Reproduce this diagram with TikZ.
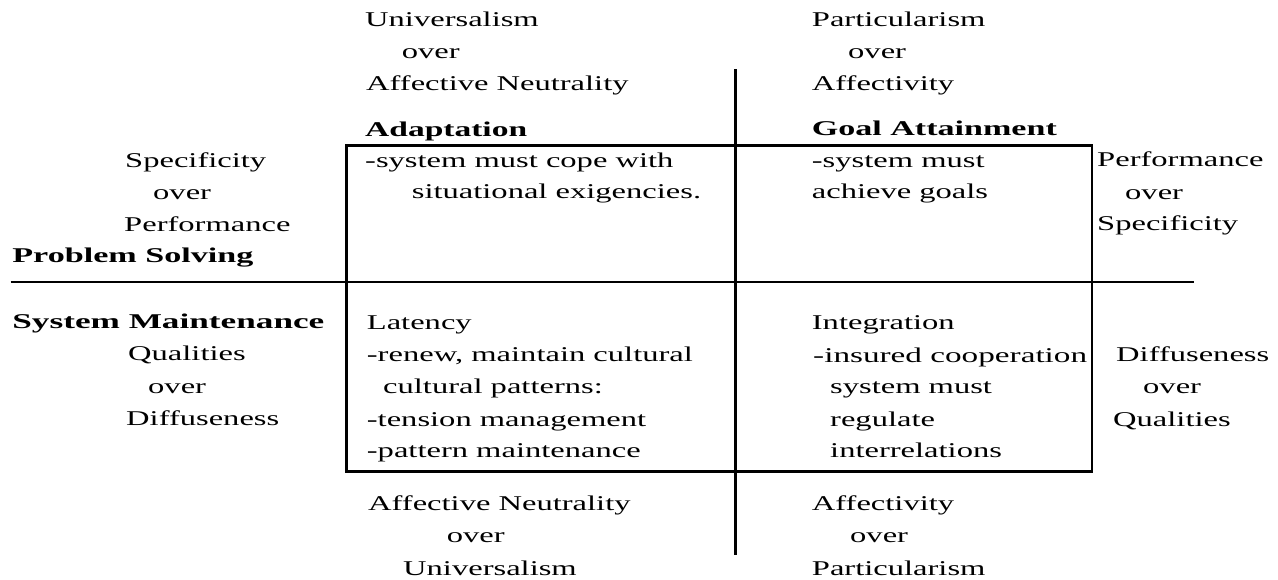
\documentclass[tikz,border=0pt]{standalone}
\usepackage{fontspec}
\setmainfont{Liberation Serif}[FakeStretch=1.55]
\newcommand{\boldfit}[2]{\resizebox{#1}{\height}{#2}}
\begin{document}
\begin{tikzpicture}[x=1pt,y=-1pt,
  txt/.style={anchor=base west,inner sep=0pt,font=\fontsize{21}{24}\selectfont},
  hd/.style={anchor=base west,inner sep=0pt,font=\fontsize{21}{24}\selectfont\bfseries},
  heavyline/.style={line width=2.8pt},
  lightline/.style={line width=1.6pt}]
\useasboundingbox (0,0) rectangle (1278,579);
\fill[white] (0,0) rectangle (1278,579);
% frame lines
\coordinate (boxNW) at (346.7,145.7);
\coordinate (boxSE) at (1092,471.7);
\coordinate (vTop) at (735.7,69);
\coordinate (vBot) at (735.7,555);
\coordinate (hL) at (10.7,281.7);
\coordinate (hR) at (1194,281.7);
\draw[lightline] (hL) -- (hR);
\draw[heavyline] (boxNW) rectangle (boxSE);
\draw[heavyline] (vTop) -- (vBot);
% top left
\node[txt] (uni1) at (365,26) {Universalism};
\node[txt] (over1) at (401.7,58) {over};
\node[txt] (an1) at (366,90.5) {Affective Neutrality};
\node[hd] (adapt) at (365,136) {\boldfit{162pt}{Adaptation}};
\node[txt] (a1) at (365,167.5) {-system must cope with};
\node[txt] (a2) at (411.7,198.5) {situational exigencies.};
% top right
\node[txt] (part1) at (811.7,26) {Particularism};
\node[txt] (over2) at (848,58) {over};
\node[txt] (aff1) at (811.7,90.5) {Affectivity};
\node[hd] (goal) at (811.7,135.5) {\boldfit{245pt}{Goal Attainment}};
\node[txt] (g1) at (811.7,167) {-system must};
\node[txt] (g2) at (811.7,198.5) {achieve goals};
% left column
\node[txt] (spec1) at (125,167.5) {Specificity};
\node[txt] (over3) at (153,199) {over};
\node[txt] (perf1) at (124,231) {Performance};
\node[hd] (ps) at (12.2,262) {\boldfit{241pt}{Problem Solving}};
\node[hd] (sm) at (12.2,328.5) {\boldfit{312pt}{System Maintenance}};
\node[txt] (qual1) at (128,360.5) {Qualities};
\node[txt] (over4) at (148,393) {over};
\node[txt] (diff1) at (126,425.5) {Diffuseness};
% right column
\node[txt] (perf2) at (1097,166.7) {Performance};
\node[txt] (over5) at (1125,199) {over};
\node[txt] (spec2) at (1097,230.5) {Specificity};
\node[txt] (diff2) at (1116,361) {Diffuseness};
\node[txt] (over6) at (1143,393) {over};
\node[txt] (qual2) at (1113,426.5) {Qualities};
% bottom left cell
\node[txt] (lat) at (366.7,329.3) {Latency};
\node[txt] (l1) at (366.7,361.5) {-renew, maintain cultural};
\node[txt] (l2) at (383,393) {cultural patterns:};
\node[txt] (l3) at (366.7,426.5) {-tension management};
\node[txt] (l4) at (366.7,457) {-pattern maintenance};
% bottom right cell
\node[txt] (integ) at (811.7,329.3) {Integration};
\node[txt] (i1) at (813,362.5) {\resizebox{274pt}{\height}{-insured cooperation}};
\node[txt] (i2) at (830,393) {system must};
\node[txt] (i3) at (830,426.5) {regulate};
\node[txt] (i4) at (830,457) {interrelations};
% bottom
\node[txt] (an2) at (368,510) {Affective Neutrality};
\node[txt] (over7) at (446.7,542) {over};
\node[txt] (uni2) at (403,575) {Universalism};
\node[txt] (aff2) at (811.7,510) {Affectivity};
\node[txt] (over8) at (850,542) {over};
\node[txt] (part2) at (811.7,575) {Particularism};
\end{tikzpicture}
\end{document}
